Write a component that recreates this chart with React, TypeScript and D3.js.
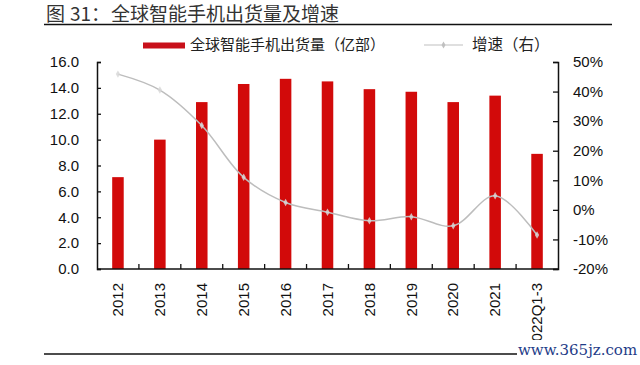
import React, { useEffect, useRef } from "react";
import * as d3 from "d3";

const categories = ["2012", "2013", "2014", "2015", "2016", "2017", "2018", "2019", "2020", "2021", "2022Q1-3"];
const shipments = [7.1, 10.0, 12.9, 14.3, 14.7, 14.5, 13.9, 13.7, 12.9, 13.4, 8.9];
const growth = [45.9, 40.5, 28.5, 11.0, 2.5, -0.8, -3.7, -2.3, -5.4, 4.8, -8.5];
const leftTicks = [0, 2, 4, 6, 8, 10, 12, 14, 16];
const rightTicks = [-20, -10, 0, 10, 20, 30, 40, 50];

const CJK = "'Noto Sans CJK SC', sans-serif";
const LATIN = "'Liberation Sans', Arial, sans-serif";

const App = () => {
  const ref = useRef<SVGSVGElement>(null);

  useEffect(() => {
    const svg = d3.select(ref.current);
    svg.selectAll("*").remove();

    const left = 97, right = 558, top = 62, bottom = 269;

    // scales
    const x = d3.scaleBand().domain(categories).range([left, right]).padding(0);
    const yL = d3.scaleLinear().domain([0, 16]).range([bottom, top]);
    const yR = d3.scaleLinear().domain([-20, 50]).range([bottom, top]);
    const cx = (c) => x(c) + x.bandwidth() / 2;
    const barW = x.bandwidth() * 0.275;

    // title + rules
    svg.append("text")
      .attr("x", 46).attr("y", 21)
      .style("font-family", CJK).style("font-size", "19px").attr("fill", "#333")
      .text("图")
      .append("tspan").attr("x", 70).text("31：")
      .append("tspan").attr("x", 111).text("全球智能手机出货量及增速");
    svg.append("line").attr("x1", 44).attr("x2", 612).attr("y1", 24.5).attr("y2", 24.5)
      .attr("stroke", "#111").attr("stroke-width", 1.5);
    svg.append("line").attr("x1", 44).attr("x2", 614).attr("y1", 354).attr("y2", 354)
      .attr("stroke", "#111").attr("stroke-width", 1.5);

    // legend
    svg.append("rect").attr("x", 143).attr("y", 42.5).attr("width", 42).attr("height", 6).attr("fill", "#c8101a");
    svg.append("text").attr("x", 190).attr("y", 45).attr("dy", "0.35em")
      .style("font-family", CJK).style("font-size", "15px").attr("fill", "#222")
      .text("全球智能手机出货量（亿部）");
    svg.append("line").attr("x1", 424).attr("x2", 463).attr("y1", 45).attr("y2", 45)
      .attr("stroke", "#c0c0c0").attr("stroke-width", 1.2);
    svg.append("path").attr("d", d3.symbol(d3.symbolDiamond, 14)())
      .attr("transform", "translate(443.5,45)").attr("fill", "#c0c0c0");
    svg.append("text").attr("x", 472).attr("y", 45).attr("dy", "0.35em")
      .style("font-family", CJK).style("font-size", "15.5px").attr("fill", "#222")
      .text("增速（右）");

    // bars
    svg.selectAll(".bar")
      .data(shipments)
      .enter()
      .append("rect")
      .attr("class", "bar")
      .attr("x", (d, i) => cx(categories[i]) - barW / 2)
      .attr("width", barW)
      .attr("y", (d) => yL(d))
      .attr("height", (d) => yL(0) - yL(d))
      .attr("fill", "#d20a0a");

    // growth line
    const line = d3.line()
      .x((d, i) => cx(categories[i]))
      .y((d) => yR(d))
      .curve(d3.curveCatmullRom.alpha(0.5));
    svg.append("path")
      .datum(growth)
      .attr("fill", "none")
      .attr("stroke", "#bdbdbd")
      .attr("stroke-width", 1.5)
      .attr("d", line);
    svg.selectAll(".marker")
      .data(growth)
      .enter()
      .append("path")
      .attr("class", "marker")
      .attr("d", d3.symbol(d3.symbolDiamond, 16)())
      .attr("transform", (d, i) => `translate(${cx(categories[i])},${yR(d)})`)
      .attr("fill", "#d8d8d8")
      .attr("opacity", 0.85);

    // left axis
    const gL = svg.append("g")
      .attr("transform", `translate(${left},0)`)
      .call(d3.axisLeft(yL).tickValues(leftTicks).tickSize(-4).tickPadding(18).tickFormat(d3.format(".1f")));
    // right axis
    const gR = svg.append("g")
      .attr("transform", `translate(${right},0)`)
      .call(d3.axisRight(yR).tickValues(rightTicks).tickSize(-5).tickPadding(15).tickFormat((d) => d + "%"));
    [gL, gR].forEach((g) => {
      g.select(".domain").attr("stroke", "#111").attr("stroke-width", 1.5);
      g.selectAll(".tick line").attr("stroke", "#111").attr("stroke-width", 1.3);
      g.selectAll("text").style("font-family", LATIN).style("font-size", "15px").attr("fill", "#111");
    });

    // bottom axis
    svg.append("line").attr("x1", left).attr("x2", right).attr("y1", bottom).attr("y2", bottom)
      .attr("stroke", "#111").attr("stroke-width", 1.5);
    svg.selectAll(".xtick")
      .data(categories.slice(1))
      .enter()
      .append("line")
      .attr("class", "xtick")
      .attr("x1", (d) => x(d)).attr("x2", (d) => x(d))
      .attr("y1", bottom).attr("y2", bottom - 5)
      .attr("stroke", "#111").attr("stroke-width", 1.3);
    svg.selectAll(".xlabel")
      .data(categories)
      .enter()
      .append("text")
      .attr("class", "xlabel")
      .attr("transform", (d) => `translate(${cx(d)},283) rotate(-90)`)
      .attr("text-anchor", "end")
      .attr("dy", "0.35em")
      .style("font-family", LATIN).style("font-size", "15px").attr("fill", "#111")
      .text((d) => d);

    // watermark
    svg.append("rect").attr("x", 517).attr("y", 340).attr("width", 118).attr("height", 20).attr("fill", "#fff");
    svg.append("text").attr("x", 518).attr("y", 355)
      .style("font-family", "'DejaVu Serif', serif").style("font-size", "15px").attr("fill", "#1f3c88")
      .text("www.365jz.com");
  }, []);

  return (
    <div style={{ position: "absolute", left: 0, top: 0 }}>
      <svg ref={ref} width={640} height={365} style={{ display: "block", background: "#fff" }} />
    </div>
  );
};

export default App;
